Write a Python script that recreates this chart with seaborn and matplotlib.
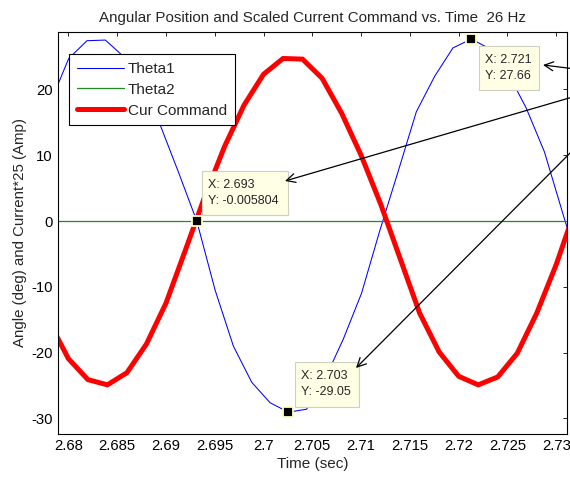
import matplotlib
matplotlib.use("Agg")
import matplotlib.pyplot as plt
import pandas as pd
import seaborn as sns
from matplotlib.patches import Rectangle
from matplotlib.ticker import FuncFormatter

# ---------------- data ----------------
t_theta1 = [2.67816, 2.68004, 2.68191, 2.68379, 2.68566, 2.68754, 2.68941, 2.69129,
            2.69316, 2.69504, 2.69691, 2.69879, 2.70066, 2.70254, 2.70441, 2.70629,
            2.70816, 2.71004, 2.71191, 2.71379, 2.71566, 2.71754, 2.71941, 2.72129,
            2.72316, 2.72504, 2.72691, 2.72879, 2.73066, 2.73254]
theta1 = [18.0, 24.7, 27.4, 27.5, 25.0, 21.0, 14.6, 7.4,
          -0.0058, -10.5, -19.0, -24.5, -27.6, -29.05, -28.6, -24.0,
          -18.0, -11.0, -1.5, 7.5, 16.6, 22.0, 26.3, 27.66,
          26.2, 22.5, 17.2, 10.5, 1.2, -8.0]
theta2 = [0.0, 0.0, 0.0, 0.0, 0.0, 0.0, 0.0, 0.0, 0.0, 0.0,
          0.0, 0.0, 0.0, 0.0, 0.0, 0.0, 0.0, 0.0, 0.0, 0.0,
          0.0, 0.0, 0.0, 0.0, 0.0, 0.0, 0.0, 0.0, 0.0, 0.0]
t_cmd = [2.678, 2.680, 2.682, 2.684, 2.686, 2.688, 2.690, 2.692, 2.694, 2.696,
         2.698, 2.700, 2.702, 2.704, 2.706, 2.708, 2.710, 2.712, 2.714, 2.716,
         2.718, 2.720, 2.722, 2.724, 2.726, 2.728, 2.730, 2.732]
cur_cmd = [-15.2, -20.9, -24.1, -24.9, -23.05, -18.7, -12.5, -4.4, 3.8, 11.3,
           17.6, 22.3, 24.7, 24.6, 21.7, 16.4, 10.0, 2.6, -5.7, -14.0,
           -19.9, -23.6, -24.9, -23.7, -20.1, -14.0, -6.6, 2.0]

series_names = ["Theta1", "Theta2", "Cur Command"]
tip_index = [8, 13, 23]
tip_x_text = ["2.693", "2.703", "2.721"]
tip_y_text = ["-0.005804", "-29.05", "27.66"]

title = "Angular Position and Scaled Current Command vs. Time  26 Hz"
xlabel = "Time (sec)"
ylabel = "Angle (deg) and Current*25 (Amp)"
xticks = [2.68, 2.685, 2.69, 2.695, 2.7, 2.705, 2.71, 2.715, 2.72, 2.725, 2.73]
yticks = [-30, -20, -10, 0, 10, 20]

# ---------------- style ----------------
sns.set_style("white")
plt.rcParams['font.family'] = ['Liberation Sans', 'DejaVu Sans']

W, H = 570, 479
fig = plt.figure(figsize=(W / 100, H / 100), dpi=100)
fig.patch.set_facecolor("white")


def fp(x, y):
    return (x / W, 1 - y / H)


ax = fig.add_axes([58 / W, 1 - 433.5 / H, 509 / W, 401.8 / H])

df1 = pd.DataFrame({"t": t_theta1, "v": theta1})
df2 = pd.DataFrame({"t": t_theta1, "v": theta2})
df3 = pd.DataFrame({"t": t_cmd, "v": cur_cmd})

sns.lineplot(data=df1, x="t", y="v", ax=ax, color="#0000FF", lw=0.75,
             label=series_names[0], sort=False, estimator=None)
sns.lineplot(data=df2, x="t", y="v", ax=ax, color="#1E8C1E", lw=0.9,
             label=series_names[1], sort=False, estimator=None)
sns.lineplot(data=df3, x="t", y="v", ax=ax, color="#FF0000", lw=3.6,
             label=series_names[2], sort=False, estimator=None)

ax.set_xlim(2.67894, 2.7311)
ax.set_ylim(-32.29, 28.77)
ax.set_xticks(xticks)
ax.set_yticks(yticks)
ax.xaxis.set_major_formatter(FuncFormatter(lambda v, p: f"{v:g}"))
ax.yaxis.set_major_formatter(FuncFormatter(lambda v, p: f"{v:g}"))
ax.tick_params(direction="in", length=3, width=0.6, top=True, right=True,
               labelsize=10.7, pad=4, colors="black")
for s in ax.spines.values():
    s.set_color("black")
    s.set_linewidth(0.8)
ax.grid(False)

ax.set_title(title, fontsize=10.9, pad=7)
ax.set_xlabel(xlabel, fontsize=11, labelpad=3)
ax.set_ylabel(ylabel, fontsize=10.8, labelpad=3)

leg = ax.legend(loc="upper left", bbox_to_anchor=fp(69.3, 54.3),
                bbox_transform=fig.transFigure, borderaxespad=0,
                fontsize=11, handlelength=3.05, handletextpad=0.3,
                borderpad=0.5, labelspacing=0.45, frameon=True,
                fancybox=False, edgecolor="black", framealpha=1)
leg.get_frame().set_linewidth(0.8)

# ---------------- data tips ----------------
boxes = [(202, 171, 288, 215), (295, 362, 359, 407), (479, 46, 539, 90)]
arrows = [((285, 181), (600, 89)), ((356, 368), (600, 123)), ((543, 65), (600, 72))]

for i, (x0, y0, x1, y1) in zip(range(3), boxes):
    k = tip_index[i]
    ax.plot([t_theta1[k]], [theta1[k]], marker="s", ms=7, mfc="black",
            mec="#FFFFC8", mew=1.3, zorder=8, clip_on=False)
    r = Rectangle(fp(x0, y1), (x1 - x0) / W, (y1 - y0) / H,
                  transform=fig.transFigure, facecolor="#FFFFE6",
                  edgecolor="#CFCFC0", lw=0.8, zorder=10)
    fig.add_artist(r)
    fig.text(*fp(x0 + 6, y0 + 14), f"X: {tip_x_text[i]}", fontsize=9,
             va="center", ha="left", zorder=11)
    fig.text(*fp(x0 + 6, y0 + 30), f"Y: {tip_y_text[i]}", fontsize=9,
             va="center", ha="left", zorder=11)

for tip, tail in arrows:
    fig.add_artist(matplotlib.patches.FancyArrowPatch(
        fp(*tail), fp(*tip), transform=fig.transFigure, arrowstyle="->",
        mutation_scale=16, color="black", lw=0.9, shrinkA=0, shrinkB=0,
        zorder=12))

fig.savefig("out.png", dpi=100)
